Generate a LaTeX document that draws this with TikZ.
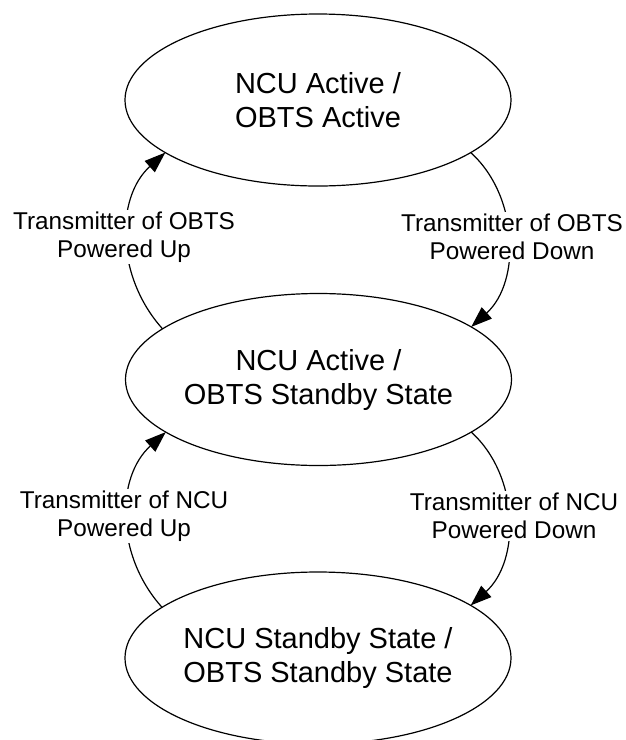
\documentclass[tikz,border=0pt]{standalone}
\usepackage{fontspec}
\setmainfont{Liberation Sans}
\usetikzlibrary{shapes.geometric,arrows.meta}
\begin{document}
\begin{tikzpicture}[x=1pt,y=-1pt,
  state/.style={draw, ellipse, line width=1.2pt, minimum width=386pt, minimum height=172pt,
    inner sep=0pt, outer sep=0pt, align=center, font=\fontsize{29}{34}\selectfont},
  trans/.style={line width=1.2pt, -{Triangle[length=21pt,width=15pt]}},
  lbl/.style={fill=white, inner sep=2pt, align=center, font=\fontsize{24.3}{28}\selectfont}]
\useasboundingbox (0,0) rectangle (625,740);
\fill[white] (0,0) rectangle (625,740);
\node[state] (top) at (318,100) {NCU Active /\\OBTS Active};
\node[state] (mid) at (318.5,379.5) {NCU Active /\\OBTS Standby State};
\node[state] (bot) at (318,658) {NCU Standby State /\\OBTS Standby State};
\draw[trans] (mid.162) .. controls +(-47,-52) and +(-50,45) .. (top.199);
\draw[trans] (top.341) .. controls +(48,43) and +(50,-45) .. (mid.19);
\draw[trans] (bot.162) .. controls +(-47,-52) and +(-50,45) .. (mid.199);
\draw[trans] (mid.341) .. controls +(48,43) and +(50,-45) .. (bot.19);
\node[lbl] (l1) at (124,237) {Transmitter of OBTS\\Powered Up};
\node[lbl] (l2) at (512,237) {Transmitter of OBTS\\Powered Down};
\node[lbl] (l3) at (124,516) {Transmitter of NCU\\Powered Up};
\node[lbl] (l4) at (514,516) {Transmitter of NCU\\Powered Down};
\end{tikzpicture}
\end{document}
